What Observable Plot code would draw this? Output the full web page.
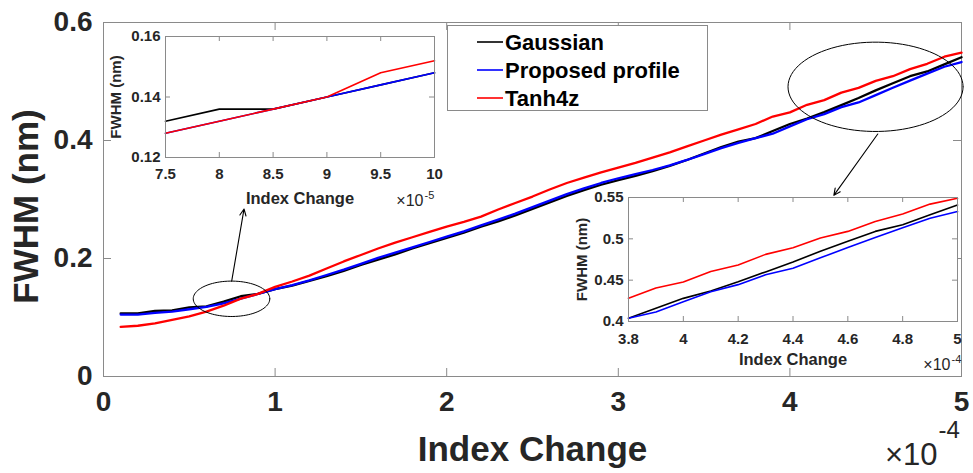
<!DOCTYPE html>
<html><head><meta charset="utf-8">
<script src="https://cdn.jsdelivr.net/npm/d3@7"></script>
<script src="https://cdn.jsdelivr.net/npm/@observablehq/plot@0.6"></script>
<style>
html,body{margin:0;padding:0;background:#fff;}
#wrap{position:relative;width:973px;height:473px;overflow:hidden;font-family:"Liberation Sans",Arial,sans-serif;}
#wrap svg{position:absolute;overflow:visible;}
</style></head><body><div id="wrap"></div>
<script>
// ---------- data (Index Change in units of 1e-4, FWHM in nm) ----------
const indexChange = [0.1,0.2,0.3,0.4,0.5,0.6,0.7,0.8,0.9,1.0,1.1,1.2,1.3,1.4,1.5,1.6,1.7,1.8,1.9,2.0,2.1,2.2,2.3,2.4,2.5,2.6,2.7,2.8,2.9,3.0,3.1,3.2,3.3,3.4,3.5,3.6,3.7,3.8,3.9,4.0,4.1,4.2,4.3,4.4,4.5,4.6,4.7,4.8,4.9,5.0];
const gaussian = [0.107,0.107,0.111,0.112,0.117,0.119,0.127,0.136,0.140,0.148,0.154,0.162,0.170,0.179,0.189,0.198,0.207,0.217,0.226,0.235,0.244,0.254,0.263,0.273,0.284,0.295,0.306,0.316,0.325,0.333,0.340,0.348,0.357,0.367,0.378,0.389,0.398,0.404,0.416,0.428,0.437,0.448,0.460,0.472,0.485,0.497,0.509,0.517,0.529,0.541];
const proposed = [0.105,0.105,0.108,0.110,0.114,0.118,0.124,0.132,0.140,0.148,0.155,0.163,0.172,0.181,0.191,0.201,0.210,0.219,0.228,0.237,0.246,0.256,0.266,0.276,0.287,0.298,0.309,0.319,0.328,0.336,0.343,0.350,0.358,0.367,0.377,0.387,0.396,0.404,0.4115,0.424,0.436,0.4446,0.4565,0.4645,0.477,0.4895,0.5015,0.5134,0.525,0.533];
const tanh4z = [0.084,0.086,0.090,0.096,0.102,0.110,0.120,0.132,0.140,0.152,0.161,0.171,0.183,0.195,0.206,0.217,0.227,0.236,0.245,0.254,0.262,0.271,0.283,0.294,0.305,0.317,0.328,0.337,0.346,0.354,0.362,0.371,0.380,0.390,0.400,0.410,0.419,0.428,0.4406,0.4477,0.4605,0.4684,0.4812,0.4891,0.501,0.509,0.521,0.530,0.542,0.549];

// inset 1 (Index Change in units of 1e-5)
const inset1Index = [7.5,8,8.5,9,9.5,10];
const inset1Gaussian = [0.132,0.136,0.136,0.140,0.144,0.148];
const inset1Proposed = [0.128,0.132,0.136,0.140,0.144,0.148];
const inset1Tanh4z = [0.128,0.132,0.136,0.140,0.148,0.152];

const seriesNames = ["Gaussian","Proposed profile","Tanh4z"];
const seriesColors = ["#000000","#0000ff","#ff0000"];

const mainXTicks = [0,1,2,3,4,5];
const mainYTicks = [0,0.2,0.4,0.6];
const inset1XTicks = [7.5,8,8.5,9,9.5,10];
const inset1YTicks = [0.12,0.14,0.16];
const inset2XTicks = [3.8,4,4.2,4.4,4.6,4.8,5];
const inset2YTicks = [0.4,0.45,0.5,0.55];

// annotations (data coordinates of the main axes)
const ellipseCx = [0.746, 4.499];
const ellipseCy = [0.1317, 0.491];
const ellipseRx = [0.223, 0.510];
const ellipseRy = [0.030, 0.0757];
const arrowX1 = [0.747, 4.512];
const arrowY1 = [0.1615, 0.411];
const arrowX2 = [0.819, 4.256];
const arrowY2 = [0.284, 0.307];

// ---------- build ----------
const font = "'Liberation Sans', Arial, sans-serif";
const axisColor = "#8a8a8a";
const labelColor = "#262626";
const wrap = document.getElementById("wrap");

function rows(xs, lists){
  const out=[];
  lists.forEach((vals,si)=>xs.forEach((x,i)=>out.push({x, y: vals[i], name: seriesNames[si]})));
  return out;
}
const mainRows = rows(indexChange,[gaussian,proposed,tanh4z]);
const inset1Rows = rows(inset1Index,[inset1Gaussian,inset1Proposed,inset1Tanh4z]);
const inset2Rows = mainRows.filter(d=>d.x>=3.8-1e-9);

const ellipseRows = [];
ellipseCx.forEach((cx,j)=>{
  for(let k=0;k<=90;k++){const t=k/90*2*Math.PI;
    ellipseRows.push({id:j, x: cx+ellipseRx[j]*Math.cos(t), y: ellipseCy[j]+ellipseRy[j]*Math.sin(t)});}
});
const arrowRows = arrowX1.map((x1,i)=>({x1, y1: arrowY1[i], x2: arrowX2[i], y2: arrowY2[i]}));

function boxTicks(fw, fh, xt, yt, len){
  return [
    Plot.tickX(xt,{x:d=>d, insetTop: fh-len, stroke: axisColor}),
    Plot.tickX(xt,{x:d=>d, insetBottom: fh-len, stroke: axisColor}),
    Plot.tickY(yt,{y:d=>d, insetRight: fw-len, stroke: axisColor}),
    Plot.tickY(yt,{y:d=>d, insetLeft: fw-len, stroke: axisColor})
  ];
}

// main
{
  const W=973,H=473,mL=103,mR=12,mT=22,mB=97;
  const fw=W-mL-mR, fh=H-mT-mB;
  const svg = Plot.plot({
    width: W, height: H, marginLeft: mL, marginRight: mR, marginTop: mT, marginBottom: mB,
    style: {fontFamily: font, background: "white"},
    x: {domain: [0,5]}, y: {domain: [0,0.6]},
    color: {domain: seriesNames, range: seriesColors},
    marks: [
      Plot.frame({stroke: axisColor}),
      ...boxTicks(fw, fh, mainXTicks, mainYTicks, 8),
      Plot.line(mainRows,{x:"x", y:"y", z:"name", stroke:"name", strokeWidth: 2.3}),
      Plot.line(ellipseRows,{x:"x", y:"y", z:"id", stroke:"black", strokeWidth: 1}),
      Plot.arrow(arrowRows,{x1:"x1", y1:"y1", x2:"x2", y2:"y2", stroke:"black", strokeWidth: 1.1, headLength: 10, headAngle: 50}),
      Plot.axisX({ticks: mainXTicks, tickSize: 0, tickPadding: 15, tickFormat: d=>String(d), label: null, fontSize: 28, fontWeight: "bold", fill: labelColor}),
      Plot.axisY({ticks: mainYTicks, tickSize: 0, tickPadding: 11, tickFormat: d=>String(d), label: null, fontSize: 28, fontWeight: "bold", fill: labelColor}),
      Plot.text(["Index Change"],{frameAnchor:"bottom", textAnchor:"middle", lineAnchor:"bottom", dy: 84, fontSize: 35, fontWeight:"bold", fill: labelColor}),
      Plot.text(["FWHM (nm)"],{frameAnchor:"left", textAnchor:"middle", lineAnchor:"bottom", rotate: -90, dx: -66, dy: 7, fontSize: 35, fontWeight:"bold", fill: labelColor}),
      Plot.text(["\u00d710"],{frameAnchor:"bottom-right", textAnchor:"end", lineAnchor:"bottom", dx: -24, dy: 88, fontSize: 31, fill: labelColor}),
      Plot.text(["-4"],{frameAnchor:"bottom-right", textAnchor:"start", lineAnchor:"bottom", dx: -23, dy: 61, fontSize: 24, fill: labelColor})
    ]
  });
  svg.style.left="0px"; svg.style.top="0px";
  wrap.appendChild(svg);
}

function inset(opts){
  const {left, top, W, H, mL, mR, mT, mB, xDomain, yDomain, xt, yt, rowsData, exp, yTitleDx, xTitleDy, xTickPad, expDx, expDy} = opts;
  const fw=W-mL-mR, fh=H-mT-mB;
  const svg = Plot.plot({
    width: W, height: H, marginLeft: mL, marginRight: mR, marginTop: mT, marginBottom: mB,
    style: {fontFamily: font, background: "transparent", overflow: "visible"},
    x: {domain: xDomain}, y: {domain: yDomain},
    color: {domain: seriesNames, range: seriesColors},
    marks: [
      Plot.frame({fill: "white", stroke: "none"}),
      ...boxTicks(fw, fh, xt, yt, 5),
      Plot.line(rowsData,{x:"x", y:"y", z:"name", stroke:"name", strokeWidth: 1.6}),
      Plot.frame({stroke: axisColor}),
      Plot.axisX({ticks: xt, tickSize: 0, tickPadding: xTickPad, tickFormat: d=>String(d), label: null, fontSize: 15, fontWeight: "bold", fill: labelColor}),
      Plot.axisY({ticks: yt, tickSize: 0, tickPadding: 5, tickFormat: d=>String(d), label: null, fontSize: 15, fontWeight: "bold", fill: labelColor}),
      Plot.text(["Index Change"],{frameAnchor:"bottom", textAnchor:"middle", lineAnchor:"bottom", dy: xTitleDy, fontSize: 16.5, fontWeight:"bold", fill: labelColor}),
      Plot.text(["FWHM (nm)"],{frameAnchor:"left", textAnchor:"middle", lineAnchor:"bottom", rotate: -90, dx: yTitleDx, fontSize: 15, fontWeight:"bold", fill: labelColor}),
      Plot.text(["\u00d710"],{frameAnchor:"bottom-right", textAnchor:"end", lineAnchor:"bottom", dx: expDx, dy: expDy, fontSize: 16, fill: labelColor}),
      Plot.text([exp],{frameAnchor:"bottom-right", textAnchor:"start", lineAnchor:"bottom", dx: expDx+1, dy: expDy-7, fontSize: 11, fill: labelColor})
    ]
  });
  svg.style.left=left+"px"; svg.style.top=top+"px";
  wrap.appendChild(svg);
}

// inset 1: axes box x 165-434, y 36-157
inset({left: 100, top: 20, W: 340, H: 190, mL: 65, mR: 6, mT: 16, mB: 53,
  xDomain: [7.5,10], yDomain: [0.12,0.16], xt: inset1XTicks, yt: inset1YTicks,
  rowsData: inset1Rows, exp: "-5", yTitleDx: -45, xTitleDy: 46, xTickPad: 11, expDx: -11, expDy: 48});

// inset 2: axes box x 628-957, y 197-324
inset({left: 565, top: 190, W: 400, H: 185, mL: 63, mR: 8, mT: 7, mB: 54,
  xDomain: [3.8,5], yDomain: [0.4,0.55], xt: inset2XTicks, yt: inset2YTicks,
  rowsData: inset2Rows, exp: "-4", yTitleDx: -42, xTitleDy: 43, xTickPad: 12, expDx: -7, expDy: 48});

// legend
{
  const lg = d3.create("svg").attr("width", 262).attr("height", 86)
    .style("left","447px").style("top","25px");
  lg.append("rect").attr("x",0.5).attr("y",0.5).attr("width",260).attr("height",85)
    .attr("fill","white").attr("stroke",axisColor);
  seriesNames.forEach((n,i)=>{
    const y = 17 + i*28;
    lg.append("line").attr("x1",30).attr("x2",56).attr("y1",y).attr("y2",y)
      .attr("stroke",seriesColors[i]).attr("stroke-width",1.6);
    lg.append("text").attr("x",58).attr("y",y+8).text(n)
      .attr("font-family",font).attr("font-size",22).attr("font-weight","bold").attr("fill","#000");
  });
  wrap.appendChild(lg.node());
}
</script></body></html>
